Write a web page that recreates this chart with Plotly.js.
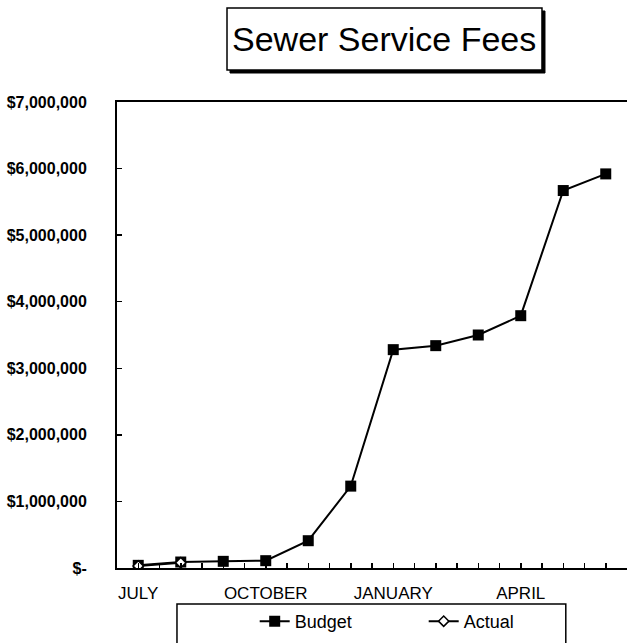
<!DOCTYPE html>
<html>
<head>
<meta charset="utf-8">
<script src="https://cdn.plot.ly/plotly-3.0.1.min.js"></script>
<style>html,body{margin:0;padding:0;background:#fff;}#chart{width:627px;height:643px;}</style>
</head>
<body>
<div id="chart"></div>
<script>
const titleText = "Sewer Service Fees";
const months = ["JULY","AUGUST","SEPTEMBER","OCTOBER","NOVEMBER","DECEMBER","JANUARY","FEBRUARY","MARCH","APRIL","MAY","JUNE"];
const monthTickLabels = ["JULY","","","OCTOBER","","","JANUARY","","","APRIL","",""];
const budget = [40000, 90000, 100000, 110000, 410000, 1230000, 3280000, 3340000, 3500000, 3790000, 5670000, 5920000];
const actual = [30000, 80000];
const yTickValues = [0, 1000000, 2000000, 3000000, 4000000, 5000000, 6000000, 7000000];
const yTickLabels = ["$-", "$1,000,000", "$2,000,000", "$3,000,000", "$4,000,000", "$5,000,000", "$6,000,000", "$7,000,000"];
const seriesNames = ["Budget", "Actual"];

const idx = months.map((m, i) => i);
const font = "Liberation Sans, Arial, sans-serif";

const traces = [
  {
    x: idx, y: budget, name: seriesNames[0], type: "scatter", mode: "lines+markers",
    line: {color: "#000", width: 2},
    marker: {symbol: "square", size: 11, color: "#000"},
    text: months, hoverinfo: "text+y"
  },
  {
    x: idx.slice(0, actual.length), y: actual, name: seriesNames[1], type: "scatter", mode: "lines+markers",
    line: {color: "#000", width: 2},
    marker: {symbol: "diamond", size: 8, color: "#fff", line: {color: "#000", width: 1.5}},
    text: months.slice(0, actual.length), hoverinfo: "text+y"
  }
];

const layout = {
  width: 627, height: 643,
  margin: {l: 117, r: 0, t: 102, b: 75},
  paper_bgcolor: "#fff", plot_bgcolor: "#fff",
  font: {family: font, color: "#000"},
  showlegend: true,
  xaxis: {
    range: [-0.5, months.length - 0.5],
    tickmode: "array", tickvals: idx, ticktext: monthTickLabels,
    ticks: "inside", ticklen: 5, tickwidth: 1.5, tickcolor: "#000",
    minor: {ticks: "inside", ticklen: 5, tickwidth: 1.5, tickcolor: "#000", tickmode: "linear", tick0: -0.5, dtick: 1},
    showline: true, linecolor: "#000", linewidth: 2, mirror: true,
    showgrid: false, zeroline: false,
    tickfont: {family: font, size: 17, color: "#000"},
    ticklabelstandoff: 9
  },
  yaxis: {
    range: [0, 7000000],
    tickmode: "array", tickvals: yTickValues, ticktext: yTickLabels,
    ticks: "inside", ticklen: 5, tickwidth: 1.5, tickcolor: "#000",
    showline: true, linecolor: "#000", linewidth: 2, mirror: true,
    showgrid: false, zeroline: false,
    tickfont: {family: font, size: 16, color: "#000", weight: "bold"},
    ticklabelstandoff: 25
  },
  legend: {
    orientation: "h", x: 0.27, xanchor: "left", y: -0.075, yanchor: "top",
    borderwidth: 0, bgcolor: "rgba(0,0,0,0)",
    font: {family: font, size: 18, color: "#000"},
    entrywidth: 124, entrywidthmode: "pixels",
    itemwidth: 30
  },
  shapes: [
    {type: "rect", xref: "paper", yref: "paper", x0: 0.2216, x1: 0.8392, y0: 1.0622, y1: 1.1953,
     fillcolor: "#000", line: {color: "#000", width: 1}},
    {type: "rect", xref: "paper", yref: "paper", x0: 0.2157, x1: 0.8333, y0: 1.0687, y1: 1.2017,
     fillcolor: "#fff", line: {color: "#000", width: 1.5}},
    {type: "rect", xref: "paper", yref: "paper", x0: 0.1176, x1: 0.880, y0: -0.0773, y1: -0.18,
     fillcolor: "rgba(0,0,0,0)", line: {color: "#000", width: 1.5}}
  ],
  annotations: [
    {
      text: titleText, xref: "paper", yref: "paper", x: 0.5245, y: 1.1352,
      xanchor: "center", yanchor: "middle", showarrow: false,
      font: {family: font, size: 34, color: "#000"}
    }
  ]
};

Plotly.newPlot("chart", traces, layout, {displayModeBar: false, staticPlot: true});
</script>
</body>
</html>
